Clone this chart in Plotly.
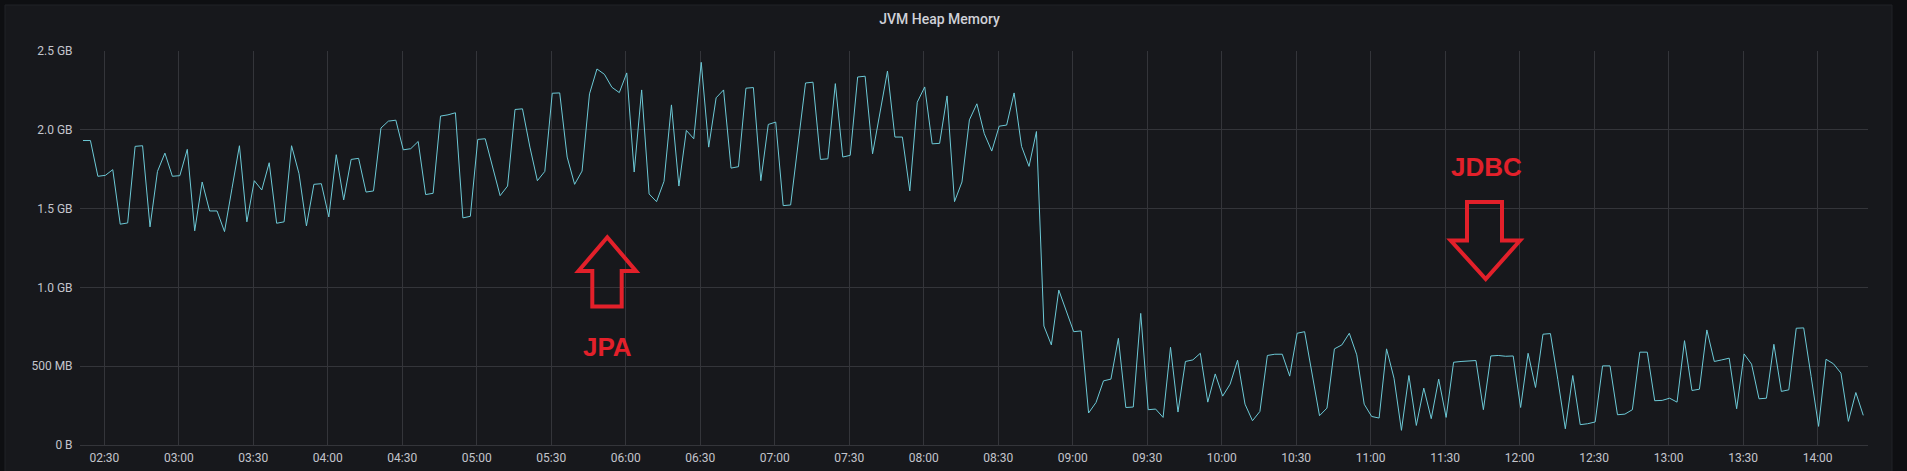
import pandas as pd
import plotly.graph_objects as go

# ---------------- data ----------------
TITLE = "JVM Heap Memory"
START_TIME = "2024-01-01 02:21:24"
STEP = "3min"

# heap usage in GB, JPA period (before the switch)
heap_gb_jpa = [
    1.932, 1.932, 1.705, 1.711, 1.747, 1.401, 1.409, 1.895, 1.899, 1.384,
    1.736, 1.852, 1.705, 1.709, 1.876, 1.359, 1.669, 1.485, 1.485, 1.354,
    1.627, 1.899, 1.416, 1.677, 1.618, 1.791, 1.407, 1.416, 1.899, 1.722,
    1.390, 1.654, 1.658, 1.447, 1.842, 1.555, 1.812, 1.819, 1.605, 1.612,
    2.011, 2.055, 2.061, 1.873, 1.880, 1.926, 1.589, 1.597, 2.087, 2.095,
    2.108, 1.441, 1.451, 1.939, 1.943, 1.764, 1.582, 1.643, 2.129, 2.133,
    1.890, 1.677, 1.736, 2.232, 2.234, 1.827, 1.654, 1.738, 2.228, 2.386,
    2.352, 2.270, 2.236, 2.361, 1.732, 2.253, 1.593, 1.544, 1.673, 2.158,
    1.643, 1.996, 1.943, 2.428, 1.890, 2.203, 2.253, 1.757, 1.766, 2.264,
    2.268, 1.677, 2.034, 2.049, 1.519, 1.523, 1.911, 2.297, 2.302, 1.812,
    1.816, 2.293, 1.827, 1.838, 2.335, 2.340, 1.848, 2.112, 2.373, 1.954,
    1.954, 1.612, 2.175, 2.272, 1.911, 1.914, 2.215, 1.544, 1.669, 2.063,
    2.165, 1.975, 1.865, 2.023, 2.030, 2.234, 1.895, 1.768, 1.989,
]

# heap usage in GB, JDBC period (after the switch)
heap_gb_jdbc = [
    0.755, 0.635, 0.983, 0.857, 0.719, 0.724, 0.203, 0.270, 0.407, 0.418, 0.677,
    0.238, 0.241, 0.835, 0.224, 0.228, 0.175, 0.620, 0.209, 0.530, 0.540,
    0.582, 0.272, 0.451, 0.310, 0.386, 0.538, 0.259, 0.154, 0.213, 0.568,
    0.576, 0.576, 0.437, 0.709, 0.719, 0.456, 0.186, 0.234, 0.610, 0.635,
    0.709, 0.572, 0.259, 0.181, 0.171, 0.610, 0.424, 0.093, 0.441, 0.124,
    0.361, 0.167, 0.418, 0.175, 0.525, 0.530, 0.534, 0.536, 0.224, 0.565,
    0.568, 0.563, 0.565, 0.238, 0.582, 0.365, 0.703, 0.707, 0.414, 0.103,
    0.441, 0.129, 0.135, 0.146, 0.502, 0.502, 0.192, 0.196, 0.224, 0.589,
    0.589, 0.281, 0.283, 0.297, 0.272, 0.662, 0.346, 0.354, 0.730, 0.530,
    0.540, 0.551, 0.230, 0.578, 0.513, 0.293, 0.297, 0.639, 0.340, 0.350,
    0.741, 0.743, 0.435, 0.118, 0.544, 0.515, 0.456, 0.150, 0.333, 0.188,
]

y_tick_vals = [0, 0.5, 1.0, 1.5, 2.0, 2.5]
y_tick_text = ["0 B", "500 MB", "1.0 GB", "1.5 GB", "2.0 GB", "2.5 GB"]
x_range = ["2024-01-01 02:20:12", "2024-01-01 14:20:18"]
x_tick0 = "2024-01-01 02:30:00"

labels = {"jpa": "JPA", "jdbc": "JDBC"}

# ---------------- build ----------------
values = heap_gb_jpa + heap_gb_jdbc
times = pd.date_range(START_TIME, periods=len(values), freq=STEP)

W, H = 1907, 471
ML, MR, MT, MB = 80, 39, 51, 26
PW, PH = W - ML - MR, H - MT - MB

OUTER_BG = "#0e0f12"
PANEL_BG = "#17181c"
GRID = "#34353a"
TEXT = "#c4c5cc"
LINE = "#6cc9d6"
RED = "#e3202a"
FONT = "Roboto"


def px(x):
    return (x - ML) / PW


def py(y):
    return (H - MB - y) / PH


def path(points):
    return "M " + " L ".join(f"{px(a):.5f},{py(b):.5f}" for a, b in points) + " Z"


fig = go.Figure()
fig.add_trace(go.Scatter(
    x=times, y=values, mode="lines",
    line=dict(color=LINE, width=1),
    hoverinfo="skip", showlegend=False,
))

# panel background
fig.add_shape(type="rect", xref="paper", yref="paper",
              x0=px(5), x1=px(1892), y0=py(490), y1=py(5),
              fillcolor=PANEL_BG, line=dict(color="#202227", width=1),
              layer="below")

# JPA up arrow
jpa_arrow = [(607.3, 237.3), (636.0, 271.0), (621.7, 271.0), (621.7, 306.5),
             (592.3, 306.5), (592.3, 271.0), (578.5, 271.0)]
fig.add_shape(type="path", xref="paper", yref="paper", path=path(jpa_arrow),
              line=dict(color=RED, width=4), fillcolor="rgba(0,0,0,0)")
# JDBC down arrow
jdbc_arrow = [(1467.0, 202.0), (1502.0, 202.0), (1502.0, 240.5), (1520.0, 240.5),
              (1485.7, 279.0), (1450.7, 240.5), (1467.0, 240.5)]
fig.add_shape(type="path", xref="paper", yref="paper", path=path(jdbc_arrow),
              line=dict(color=RED, width=4), fillcolor="rgba(0,0,0,0)")

fig.add_annotation(xref="paper", yref="paper", x=px(607.5), y=py(346.5),
                   text=f"<b>{labels['jpa']}</b>", showarrow=False,
                   xanchor="center", yanchor="middle",
                   font=dict(family="Liberation Sans, Arial", size=26, color=RED))
fig.add_annotation(xref="paper", yref="paper", x=px(1486), y=py(167),
                   text=f"<b>{labels['jdbc']}</b>", showarrow=False,
                   xanchor="center", yanchor="middle",
                   font=dict(family="Liberation Sans, Arial", size=26, color=RED))

fig.update_layout(
    width=W, height=H,
    margin=dict(l=ML, r=MR, t=MT, b=MB, pad=0, autoexpand=False),
    paper_bgcolor=OUTER_BG,
    plot_bgcolor="rgba(0,0,0,0)",
    title=dict(text=TITLE, x=939.5 / W, xref="container", xanchor="center",
               y=1 - 19 / H, yref="container", yanchor="middle",
               font=dict(family=FONT, size=14, color="#d0d1d8", weight=500)),
    font=dict(family=FONT, size=12, color=TEXT),
    xaxis=dict(
        type="date", range=x_range, tick0=x_tick0, dtick=30 * 60 * 1000,
        tickformat="%H:%M", showgrid=True, gridcolor=GRID, gridwidth=1,
        zeroline=False, showline=False, ticks="outside", ticklen=2,
        tickcolor="rgba(0,0,0,0)", tickfont=dict(family=FONT, size=12, color=TEXT),
        fixedrange=True, automargin=False,
    ),
    yaxis=dict(
        range=[0, 2.5], tickvals=y_tick_vals, ticktext=y_tick_text,
        showgrid=True, gridcolor=GRID, gridwidth=1,
        zeroline=True, zerolinecolor=GRID, zerolinewidth=1,
        showline=False, ticks="outside", ticklen=4, tickcolor="rgba(0,0,0,0)",
        tickfont=dict(family=FONT, size=12, color=TEXT), fixedrange=True,
        automargin=False,
    ),
    showlegend=False,
    hovermode=False,
)

fig.write_html("out.html", post_script="document.body.style.margin='0';",
               config={"displayModeBar": False})
